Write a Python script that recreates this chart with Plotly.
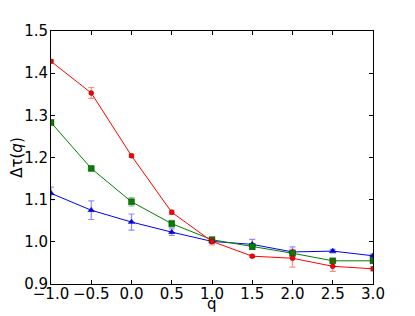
import plotly.graph_objects as go

q = [-1.0, -0.5, 0.0, 0.5, 1.0, 1.5, 2.0, 2.5, 3.0]
red_vals = [1.428, 1.353, 1.204, 1.070, 1.001, 0.966, 0.961, 0.942, 0.936]
red_err = [0.004, 0.013, 0.004, 0.005, 0.008, 0.003, 0.021, 0.012, 0.005]
green_vals = [1.283, 1.174, 1.095, 1.043, 1.005, 0.989, 0.973, 0.955, 0.955]
green_err = [0.005, 0.004, 0.010, 0.008, 0.006, 0.007, 0.006, 0.004, 0.005]
blue_vals = [1.115, 1.075, 1.047, 1.023, 1.001, 0.994, 0.976, 0.978, 0.967]
blue_err = [0.015, 0.022, 0.019, 0.008, 0.004, 0.012, 0.012, 0.004, 0.004]

x_ticks = [-1.0, -0.5, 0.0, 0.5, 1.0, 1.5, 2.0, 2.5, 3.0]
x_labels = ["\u22121.0", "\u22120.5", "0.0", "0.5", "1.0", "1.5", "2.0", "2.5", "3.0"]
y_ticks = [0.9, 1.0, 1.1, 1.2, 1.3, 1.4, 1.5]
y_labels = ["0.9", "1.0", "1.1", "1.2", "1.3", "1.4", "1.5"]

series = [
    ("blue", blue_vals, blue_err, "#0000ff", "rgba(0,0,255,0.45)", "triangle-up", 6),
    ("green", green_vals, green_err, "#008000", "rgba(0,128,0,0.45)", "square", 6),
    ("red", red_vals, red_err, "#ff0000", "rgba(255,0,0,0.45)", "circle", 5),
]

fig = go.Figure()
for name, vals, err, col, ecol, sym, sz in series:
    fig.add_trace(go.Scatter(
        x=q, y=vals, mode="lines+markers", name=name,
        line=dict(color=col, width=1),
        marker=dict(color=col, symbol=sym, size=sz, line=dict(color="black", width=0.3)),
        error_y=dict(type="data", array=err, visible=True, color=ecol, thickness=1.2, width=3),
        showlegend=False,
    ))

font15 = dict(family="DejaVu Sans", size=15, color="black")
axis_common = dict(
    showline=True, linecolor="black", linewidth=1, mirror="ticks",
    ticks="inside", ticklen=4, tickcolor="black", showgrid=False, zeroline=False,
    automargin=False, tickfont=font15,
)
fig.update_xaxes(range=[-1, 3], tickvals=x_ticks, ticktext=x_labels,
                 ticklabelstandoff=-4, **axis_common)
fig.update_yaxes(range=[0.9, 1.5], tickvals=y_ticks, ticktext=y_labels,
                 ticklabelstandoff=-1,
                 title=dict(text="\u0394\u03c4(<i>q</i>)", font=font15, standoff=2),
                 **axis_common)
fig.add_annotation(text="q", xref="paper", yref="paper", x=0.5, y=0, yshift=-20,
                   xanchor="center", yanchor="middle", showarrow=False, font=font15)
# page body has an 8px margin, so the figure is sized/offset accordingly
fig.update_layout(
    width=407, height=308,
    margin=dict(l=43, r=42, t=23, b=32),
    paper_bgcolor="white", plot_bgcolor="white",
)
fig.write_html("out.html")
